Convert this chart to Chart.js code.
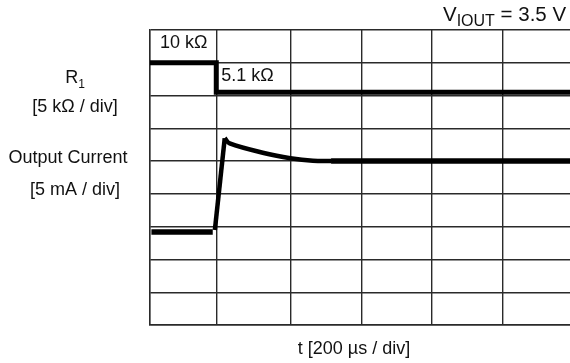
<!DOCTYPE html>
<html>
<head>
<meta charset="utf-8">
<script src="https://cdn.jsdelivr.net/npm/chart.js@4"></script>
<style>
  html, body { margin: 0; padding: 0; background: #fff; overflow: hidden; }
  #wrap { width: 580px; height: 363px; position: relative; }
</style>
</head>
<body>
<div id="wrap"><canvas id="c" width="580" height="363"></canvas></div>
<script>
// ---- data (in scope divisions) ----
const xGridDivs = [0, 0.95, 2, 3, 4, 5, 6];
const r1X = [0, 0.94, 0.94, 6];
const r1Y = [8.0, 8.0, 7.1, 7.1];
const curLowX = [0.02, 0.89];
const curLowY = [2.84, 2.84];
const curRiseX = [0.92, 1.06];
const curRiseY = [2.9, 5.7];
const curDecayX = [1.06, 1.13, 1.63, 1.99, 2.31, 2.58];
const curDecayY = [5.7, 5.54, 5.24, 5.09, 5.01, 5.0];
const curFlatX = [2.57, 6];
const curFlatY = [5.0, 5.0];
const r1Labels = ['10 kΩ', '5.1 kΩ'];
const leftLabels = ['[5 kΩ / div]', 'Output Current', '[5 mA / div]'];
const xTitle = 't [200 µs / div]';

const pts = (xs, ys) => xs.map((x, i) => ({ x: x, y: ys[i] }));
const ds = (xs, ys, w, tension) => ({
  data: pts(xs, ys), showLine: true, pointRadius: 0, borderColor: '#000',
  backgroundColor: '#000', borderWidth: w, tension: tension || 0, fill: false
});

const FONT = '"Liberation Sans", Arial, sans-serif';
const textPlugin = {
  id: 'texts',
  afterDraw(chart) {
    const ctx = chart.ctx;
    const xs = chart.scales.x, ys = chart.scales.y;
    ctx.save();
    ctx.fillStyle = '#111';
    ctx.textBaseline = 'alphabetic';
    // R1 value labels
    ctx.font = '18px ' + FONT;
    ctx.textAlign = 'left';
    ctx.fillText(r1Labels[0], xs.getPixelForValue(0) + 10, ys.getPixelForValue(8.45));
    ctx.fillText(r1Labels[1], xs.getPixelForValue(0.94) + 5, ys.getPixelForValue(7.45));
    // left labels
    const cx = 75;
    ctx.font = '18px ' + FONT;
    const rw = ctx.measureText('R').width;
    ctx.font = '12px ' + FONT;
    const sw = ctx.measureText('1').width;
    const startR = cx - (rw + sw) / 2;
    ctx.textAlign = 'left';
    ctx.font = '18px ' + FONT;
    ctx.fillText('R', startR, 83);
    ctx.font = '12px ' + FONT;
    ctx.fillText('1', startR + rw, 88);
    ctx.textAlign = 'center';
    ctx.font = '18px ' + FONT;
    ctx.fillText(leftLabels[0], cx, 112);
    ctx.fillText(leftLabels[1], 68, 163);
    ctx.fillText(leftLabels[2], cx, 195);
    // x title
    ctx.fillText(xTitle, 354, 354);
    // V_IOUT label
    ctx.textAlign = 'left';
    let x = 443;
    ctx.font = '20.5px ' + FONT;
    ctx.fillText('V', x, 21);
    x += ctx.measureText('V').width;
    ctx.font = '16px ' + FONT;
    ctx.fillText('IOUT', x, 25.5);
    x += ctx.measureText('IOUT').width;
    ctx.font = '20.5px ' + FONT;
    ctx.fillText(' = 3.5 V', x, 21);
    ctx.restore();
  }
};

new Chart(document.getElementById('c'), {
  type: 'scatter',
  data: {
    datasets: [
      ds(r1X, r1Y, 5),
      ds(curLowX, curLowY, 5.5),
      ds(curRiseX, curRiseY, 4.5),
      ds(curDecayX, curDecayY, 4.5, 0.35),
      ds(curFlatX, curFlatY, 5.5)
    ]
  },
  options: {
    responsive: false,
    animation: false,
    devicePixelRatio: 1,
    layout: { padding: { left: 150, top: 30, right: 7, bottom: 38 } },
    plugins: { legend: { display: false }, tooltip: { enabled: false }, title: { display: false } },
    scales: {
      x: {
        type: 'linear', min: 0, max: 6,
        afterBuildTicks: (axis) => { axis.ticks = xGridDivs.map(v => ({ value: v })); },
        ticks: { display: false },
        grid: { color: '#2a2a2a', lineWidth: 1.4, drawTicks: false },
        border: { display: true, color: '#2a2a2a', width: 1.4 }
      },
      y: {
        type: 'linear', min: 0, max: 9,
        ticks: { display: false, stepSize: 1 },
        grid: { color: '#2a2a2a', lineWidth: 1.4, drawTicks: false },
        border: { display: true, color: '#2a2a2a', width: 1.4 }
      }
    }
  },
  plugins: [textPlugin]
});
</script>
</body>
</html>
